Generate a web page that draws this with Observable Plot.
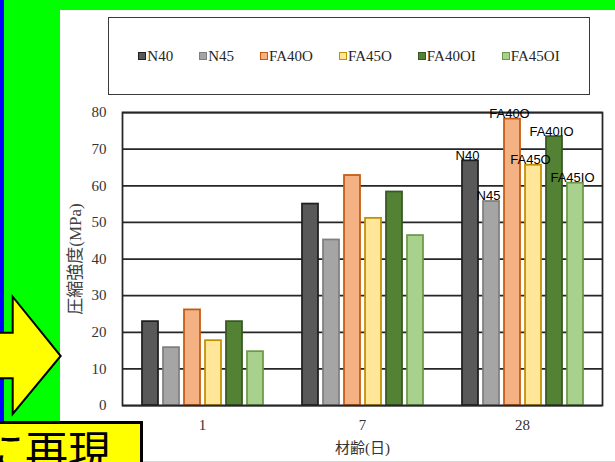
<!DOCTYPE html>
<html>
<head>
<meta charset="utf-8">
<script src="https://cdn.jsdelivr.net/npm/d3@7"></script>
<script src="https://cdn.jsdelivr.net/npm/@observablehq/plot@0.6"></script>
<style>
  html, body { margin: 0; padding: 0; }
  #page { position: relative; width: 615px; height: 462px; background: #00ff00; overflow: hidden; }
  #strip { position: absolute; left: 0; top: 0; width: 3.5px; height: 462px; background: #0000ff; }
  #sheet { position: absolute; left: 60px; top: 10px; width: 555px; height: 452px; background: #ffffff;
           border-bottom: 1px solid #d4d4d4; box-sizing: border-box; }
  #legend { position: absolute; left: 108px; top: 17px; width: 482px; height: 78px; box-sizing: border-box;
            border: 1.5px solid #3a3a3a; display: flex; align-items: center; justify-content: center; gap: 26px;
            font-family: "Liberation Serif", serif; font-size: 15px; color: #262626; }
  #legend .item { display: flex; align-items: center; gap: 1px; }
  #legend .sw { width: 8px; height: 8px; box-sizing: border-box; border: 1.5px solid; }
  #chart { position: absolute; left: 60px; top: 95px; }
  #arrow { position: absolute; left: 0; top: 0; }
  #tag { position: absolute; left: -10px; top: 421px; width: 153px; height: 60px; box-sizing: border-box;
         background: #ffff00; border: 3px solid #000; }
  #tag span { position: absolute; left: -11px; top: 3px; font-family: "Noto Sans CJK JP", sans-serif;
              font-size: 43px; line-height: 1; color: #000; white-space: nowrap; }
</style>
</head>
<body>
<div id="page">
  <div id="strip"></div>
  <div id="sheet"></div>
  <div id="legend"></div>
  <div id="chart"></div>
  <svg id="arrow" width="70" height="462">
    <polygon points="-5,332.7 12.7,332.7 12.7,296.7 60.7,356 12.7,414 12.7,378.3 -5,378.3"
             fill="#ffff00" stroke="#000" stroke-width="2" stroke-linejoin="miter"/>
  </svg>
  <div id="tag"><span>に再現</span></div>
</div>
<script>
// Compressive strength by curing age for six concrete mixes
const ages = ["1", "7", "28"];
const mixes = ["N40", "N45", "FA40O", "FA45O", "FA40OI", "FA45OI"];
const day1 = [22.9, 15.8, 26.1, 17.7, 22.9, 14.7];
const day7 = [55.0, 45.2, 62.8, 51.1, 58.3, 46.4];
const day28 = [66.8, 55.7, 78.2, 65.6, 73.4, 60.7];
const labels28 = ["N40", "N45", "FA40O", "FA45O", "FA40IO", "FA45IO"];
const yTicks = [0, 10, 20, 30, 40, 50, 60, 70, 80];

const fills = ["#595959", "#a5a5a5", "#f4b183", "#ffe699", "#548235", "#a9d18e"];
const strokes = ["#1f1f1f", "#7f7f7f", "#c55a11", "#bf9000", "#385723", "#6a9a48"];

const rows = [];
[day1, day7, day28].forEach((vals, a) =>
  vals.forEach((v, i) => rows.push({age: ages[a], mix: mixes[i], value: v, fill: fills[i], stroke: strokes[i]}))
);

// legend
const legend = document.getElementById("legend");
mixes.forEach((m, i) => {
  const item = document.createElement("div");
  item.className = "item";
  const sw = document.createElement("span");
  sw.className = "sw";
  sw.style.background = fills[i];
  sw.style.borderColor = strokes[i];
  const tx = document.createElement("span");
  tx.textContent = m;
  item.append(sw, tx);
  legend.append(item);
});

const ink = "#262626";

const chart = Plot.plot({
  width: 555,
  height: 367,
  marginLeft: 62,
  marginRight: 13,
  marginTop: 17,
  marginBottom: 57,
  style: {fontFamily: "'Liberation Serif', 'Noto Sans CJK JP', serif", fontSize: "15px", color: "#333", background: "transparent", overflow: "visible"},
  fx: {domain: ages, padding: 0},
  x: {domain: mixes, paddingInner: 0.245, paddingOuter: 0.9, axis: null},
  y: {domain: [0, 80]},
  color: {type: "identity"},
  marks: [
    Plot.gridY(yTicks, {stroke: ink, strokeOpacity: 1, strokeWidth: 1.75}),
    Plot.barY(rows, {fx: "age", x: "mix", y: "value", fill: "fill", stroke: "stroke", strokeWidth: 1.75}),
    Plot.frame({facet: "super", stroke: ink, strokeWidth: 1.75}),
    Plot.text(rows.filter(d => d.age === "28"), {
      fx: "age", x: "mix", y: "value",
      text: d => labels28[mixes.indexOf(d.mix)],
      lineAnchor: "bottom", dy: -1, dx: -3,
      fontFamily: "'Liberation Sans', Arial, sans-serif", fontSize: 13, fill: "#000"
    }),
    Plot.axisY(yTicks, {tickSize: 0, tickPadding: 16, label: null, tickFormat: d => String(d)}),
    Plot.axisY([], {label: "圧縮強度(MPa)", labelAnchor: "center", labelArrow: "none", labelOffset: 54,
      fontSize: 17, fill: "#404040"}),
    Plot.axisFx({anchor: "bottom", tickSize: 0, tickPadding: 14, label: "材齢(日)", labelAnchor: "center",
      labelOffset: 47, fontSize: 15})
  ]
});
document.getElementById("chart").append(chart);
</script>
</body>
</html>
